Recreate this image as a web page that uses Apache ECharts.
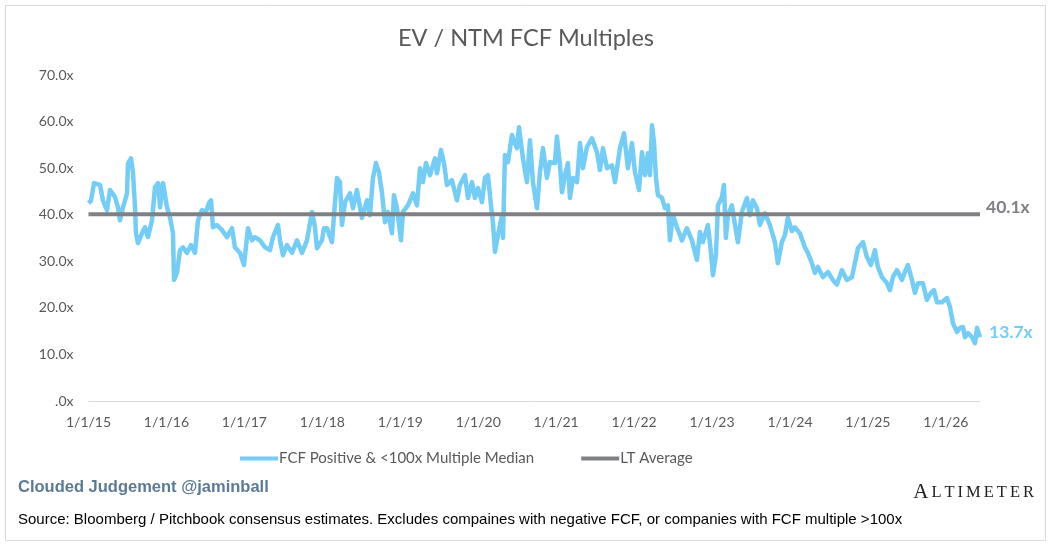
<!DOCTYPE html>
<html>
<head>
<meta charset="utf-8">
<script src="https://cdn.jsdelivr.net/npm/echarts@6/dist/echarts.min.js"></script>
<style>html,body{margin:0;padding:0;background:#fff;}#c{width:1052px;height:548px;}</style>
</head>
<body>
<div id="c"></div>
<script>
// x values: decimal years; y values: EV / NTM FCF multiple
const dates = [
2015.000,2015.032,2015.071,2015.148,2015.186,2015.237,2015.276,2015.340,2015.378,2015.404,
2015.443,2015.494,2015.507,2015.545,2015.571,2015.597,2015.609,2015.635,2015.686,2015.725,
2015.763,2015.815,2015.853,2015.892,2015.918,2015.956,2016.007,2016.045,2016.084,2016.097,
2016.135,2016.174,2016.212,2016.263,2016.315,2016.366,2016.405,2016.456,2016.507,2016.546,
2016.572,2016.597,2016.649,2016.713,2016.777,2016.841,2016.879,2016.944,2016.995,2017.046,
2017.097,2017.136,2017.200,2017.264,2017.328,2017.367,2017.431,2017.457,2017.495,2017.546,
2017.611,2017.675,2017.739,2017.803,2017.867,2017.906,2017.931,2017.995,2018.021,2018.060,
2018.124,2018.150,2018.188,2018.226,2018.252,2018.291,2018.355,2018.393,2018.444,2018.508,
2018.573,2018.611,2018.650,2018.688,2018.727,2018.765,2018.804,2018.842,2018.894,2018.919,
2018.958,2019.009,2019.035,2019.099,2019.163,2019.214,2019.253,2019.291,2019.330,2019.381,
2019.445,2019.471,2019.522,2019.561,2019.599,2019.663,2019.727,2019.766,2019.830,2019.868,
2019.920,2019.958,2019.997,2020.048,2020.087,2020.125,2020.164,2020.189,2020.215,2020.253,
2020.305,2020.318,2020.343,2020.382,2020.433,2020.497,2020.523,2020.574,2020.625,2020.664,
2020.702,2020.754,2020.792,2020.831,2020.882,2020.920,2020.985,2021.010,2021.049,2021.075,
2021.113,2021.152,2021.177,2021.216,2021.267,2021.306,2021.344,2021.395,2021.459,2021.524,
2021.562,2021.601,2021.652,2021.716,2021.755,2021.819,2021.870,2021.921,2021.973,2022.011,
2022.063,2022.101,2022.140,2022.178,2022.204,2022.230,2022.255,2022.281,2022.306,2022.358,
2022.396,2022.434,2022.460,2022.498,2022.550,2022.614,2022.678,2022.742,2022.806,2022.845,
2022.883,2022.947,2022.986,2023.012,2023.050,2023.076,2023.127,2023.153,2023.178,2023.204,
2023.255,2023.294,2023.332,2023.383,2023.448,2023.486,2023.524,2023.576,2023.614,2023.678,
2023.742,2023.807,2023.845,2023.896,2023.935,2023.973,2024.025,2024.063,2024.127,2024.191,
2024.230,2024.281,2024.320,2024.358,2024.422,2024.487,2024.551,2024.602,2024.666,2024.730,
2024.795,2024.833,2024.872,2024.936,2024.987,2025.038,2025.090,2025.128,2025.180,2025.244,
2025.282,2025.321,2025.372,2025.436,2025.475,2025.513,2025.565,2025.603,2025.642,2025.706,
2025.757,2025.809,2025.847,2025.886,2025.950,2026.014,2026.053,2026.091,2026.143,2026.181,
2026.220,2026.245,2026.284,2026.335,2026.374,2026.400,2026.438
];
const fcfMedian = [
42.5,43.0,46.8,46.4,43.0,41.0,45.3,43.8,41.6,38.8,
41.6,44.6,51.0,52.1,49.0,41.6,36.0,33.9,36.0,37.3,
35.2,38.8,45.9,46.8,41.6,46.8,41.6,39.5,36.0,26.0,
27.5,32.4,33.0,31.8,33.5,31.8,38.8,41.0,40.6,42.5,
43.1,37.3,37.8,36.7,35.2,37.1,33.0,31.8,29.2,37.1,
34.5,35.2,34.5,33.0,32.4,35.2,37.8,34.5,31.3,33.5,
31.8,34.5,31.8,34.5,40.6,37.3,32.8,34.5,37.1,37.1,
34.1,39.9,47.9,47.0,37.8,42.7,44.6,41.4,45.3,39.3,
43.1,39.9,47.9,51.1,49.1,44.8,38.4,40.6,36.0,44.2,
41.4,34.5,40.6,42.0,44.6,42.0,50.0,47.0,51.1,48.5,
52.1,48.9,53.9,51.1,46.4,47.4,43.1,46.4,48.5,43.6,
47.0,43.6,45.7,42.7,47.9,48.5,42.0,38.4,32.0,35.6,
39.9,35.0,52.8,51.3,57.1,54.3,58.8,52.1,47.0,56.0,
47.0,41.4,49.1,54.3,47.9,51.3,51.1,56.8,50.6,44.8,
48.5,51.1,43.6,47.9,47.0,55.4,50.0,54.5,56.4,53.4,
49.6,54.3,50.0,50.6,47.0,54.3,57.5,50.0,55.4,49.1,
45.3,53.4,48.5,53.2,48.5,59.2,55.6,47.9,44.2,43.6,
41.4,42.0,34.5,39.9,37.3,34.5,37.1,34.5,30.3,36.3,
34.1,37.8,32.0,27.0,31.3,42.0,43.8,46.4,35.0,39.9,
42.0,37.8,34.1,40.6,43.6,39.9,43.1,41.4,37.8,40.3,
37.8,34.1,29.6,34.1,35.6,39.3,36.5,37.3,36.0,33.0,
31.8,29.6,27.5,28.8,26.6,27.7,26.0,25.0,28.1,26.0,
26.6,29.6,32.8,34.1,30.9,29.2,32.4,28.8,26.6,25.3,
23.8,26.6,28.1,26.0,27.7,29.2,26.0,23.2,25.3,25.3,
21.7,23.2,23.8,21.2,21.2,22.1,20.2,16.7,14.8,15.7,
15.9,13.7,14.6,13.7,12.4,15.7,13.7
];
const ltAverage = 40.1;
const ltDates = [2015.0, 2026.438];
const yearTicks = [2015,2016,2017,2018,2019,2020,2021,2022,2023,2024,2025,2026];

const fcfData = dates.map((d, i) => [d, fcfMedian[i]]);
const ltData = ltDates.map(d => [d, ltAverage]);

const chart = echarts.init(document.getElementById('c'), null, {renderer: 'canvas'});
const txt = '#595959';
const blue = '#74CDF6';
const gray = '#7F8184';
chart.setOption({
  animation: false,
  backgroundColor: '#fff',
  title: {
    text: 'EV / NTM FCF Multiples',
    left: 521, top: 21, textAlign: 'center',
    textStyle: {fontFamily: 'Lato', fontSize: 23.5, fontWeight: 'normal', color: txt}
  },
  grid: {left: 88.5, right: 72, top: 75, bottom: 147, containLabel: false},
  xAxis: {
    type: 'value', min: 2015, max: ltDates[1], interval: 1,
    axisLine: {show: true, lineStyle: {color: '#D9D9D9', width: 1}},
    axisTick: {show: false},
    splitLine: {show: false},
    axisLabel: {
      show: true, margin: 14, color: txt, fontFamily: 'Lato', fontSize: 14,
      showMaxLabel: false,
      formatter: v => yearTicks.indexOf(Math.round(v)) >= 0 && Math.abs(v - Math.round(v)) < 1e-6 ? '1/1/' + (Math.round(v) - 2000) : ''
    }
  },
  yAxis: {
    type: 'value', min: 0, max: 70, interval: 10,
    axisLine: {show: false}, axisTick: {show: false}, splitLine: {show: false},
    axisLabel: {
      margin: 15, color: txt, fontFamily: 'Lato', fontSize: 14,
      formatter: v => v === 0 ? '.0x' : v.toFixed(1) + 'x'
    }
  },
  legend: {
    left: 235, top: 446,
    icon: 'rect', itemWidth: 38, itemHeight: 4, itemGap: 47,
    textStyle: {fontFamily: 'Lato', fontSize: 15, color: txt, padding: [0, 0, 0, -4]},
    data: ['FCF Positive & <100x Multiple Median', 'LT Average']
  },
  series: [
    {
      name: 'FCF Positive & <100x Multiple Median', type: 'line', data: fcfData,
      showSymbol: false, symbol: 'none', z: 2,
      lineStyle: {color: blue, width: 4.5, join: 'round'},
      itemStyle: {color: blue},
      endLabel: {
        show: true, distance: 9, offset: [0, -5],
        formatter: p => p.value[1].toFixed(1) + 'x',
        color: blue, fontFamily: 'Lato', fontSize: 17.5, fontWeight: 'bold'
      }
    },
    {
      name: 'LT Average', type: 'line', data: ltData,
      showSymbol: false, symbol: 'none', z: 3,
      lineStyle: {color: gray, width: 4},
      itemStyle: {color: gray},
      endLabel: {
        show: true, distance: 6, offset: [0, -7],
        formatter: p => p.value[1].toFixed(1) + 'x',
        color: gray, fontFamily: 'Lato', fontSize: 17.5, fontWeight: 'bold'
      }
    }
  ],
  graphic: [
    {type: 'rect', shape: {x: 5.5, y: 5.5, width: 1040, height: 535}, style: {fill: 'none', stroke: '#D9D9D9', lineWidth: 1}, silent: true},
    {type: 'text', left: 18, top: 479, style: {text: 'Clouded Judgement @jaminball', fill: '#5B7A97', font: 'bold 16.5px "Liberation Sans", Arial, sans-serif'}},
    {type: 'text', left: 18, top: 512, style: {text: 'Source: Bloomberg / Pitchbook consensus estimates. Excludes compaines with negative FCF, or companies with FCF multiple >100x', fill: '#000', font: '15px "Liberation Sans", Arial, sans-serif'}},
    {type: 'text', right: 18, top: 482, style: {
      text: '{a|A}{b|L}{b|T}{b|I}{b|M}{b|E}{b|T}{b|E}{b|R}',
      rich: {
        a: {fontFamily: 'Liberation Serif', fontSize: 21, fill: '#222', padding: [0, 1.5, 0, 0]},
        b: {fontFamily: 'Liberation Serif', fontSize: 16.5, fill: '#222', padding: [0, 1.5, 0, 1.5]}
      }
    }}
  ]
});
</script>
</body>
</html>
